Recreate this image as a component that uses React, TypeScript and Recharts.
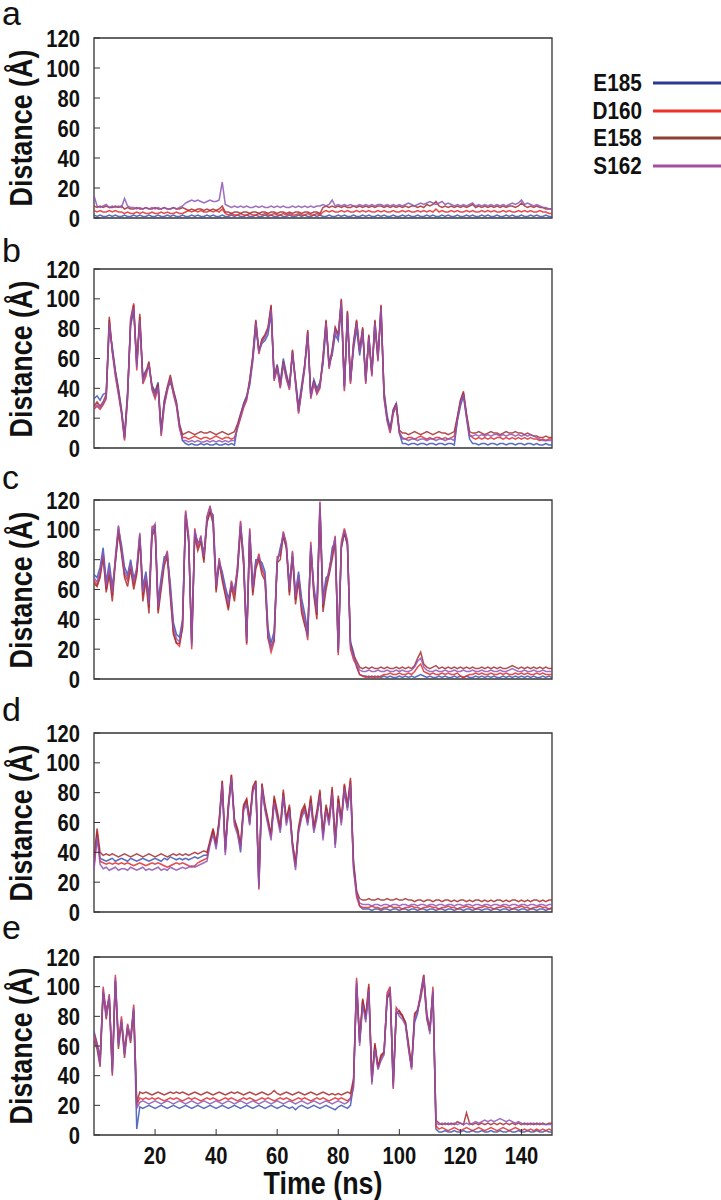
import { LineChart, Line, XAxis, YAxis, ReferenceArea } from 'recharts'

// Time axis (ns), one sample per ns
const TIME = Array.from({ length: 151 }, (_, i) => i)
const X_TICKS = [20, 40, 60, 80, 100, 120, 140]
const Y_TICKS = [0, 20, 40, 60, 80, 100, 120]

const SERIES = ['E185', 'D160', 'E158', 'S162']
const LINE_COLORS = ['#3a55b5', '#e52b2b', '#a82a2c', '#8d55b5']
const LEGEND_COLORS = ['#2b3990', '#ec3228', '#8b4031', '#a3519f']

// ---- panel a ----
const aE185 = [2,1,2,1,1,2,1,2,1,1, 2,1,1,2,1,2,1,1,2,1, 1,2,1,1,2,1,2,1,1,2, 1,1,2,1,2,1,1,2,1,2, 1,1,2,1,1,2,1,2,1,1, 2,1,1,2,1,1,2,1,2,1, 1,2,1,1,2,1,1,2,1,2, 1,1,2,1,2,1,1,2,1,1, 2,1,2,1,1,2,1,1,2,1, 2,1,1,2,1,2,1,1,2,1, 1,2,1,2,1,1,2,1,1,2, 1,2,1,1,2,1,2,1,1,2, 1,1,2,1,2,1,1,2,1,2, 1,1,2,1,1,2,1,2,1,1, 2,1,1,2,1,2,1,1,2,1, 1]
const aD160 = [5,4,5,4,4,5,4,5,4,4, 3,4,3,3,4,3,4,3,3,4, 3,3,4,3,4,3,3,4,3,3, 4,5,4,5,4,5,4,4,5,4, 5,4,6,3,2,3,2,2,3,2, 2,3,2,2,3,2,3,2,2,3, 2,2,3,2,3,2,2,3,2,2, 3,2,2,3,2,4,5,4,5,4, 4,5,4,5,4,4,5,4,5,4, 5,4,4,5,4,5,4,4,5,4, 4,5,4,5,4,4,5,4,5,4, 5,4,6,4,5,4,4,5,4,5, 4,4,5,4,5,4,4,5,4,5, 4,5,4,4,5,4,5,4,4,5, 4,5,4,5,4,4,5,4,4,3, 3]
const aE158 = [8,7,8,7,8,7,7,8,7,8, 6,7,6,6,7,6,6,7,6,6, 7,6,6,7,6,6,7,6,6,7, 6,5,6,5,6,6,5,6,5,6, 5,6,8,4,4,3,4,4,3,4, 4,3,4,4,3,4,4,3,4,4, 3,4,4,3,4,3,4,4,3,4, 4,3,4,4,3,7,8,7,8,7, 8,7,8,7,7,8,7,8,7,8, 7,8,7,8,8,7,8,7,8,7, 8,7,8,7,8,8,7,8,7,9, 8,9,11,8,7,8,7,8,7,8, 7,8,7,8,9,7,8,7,8,7, 8,7,8,7,8,7,8,8,7,8, 10,8,7,8,7,8,7,7,6,6, 6]
const aS162 = [15,8,7,8,9,7,8,7,8,7, 13,8,7,7,6,7,6,7,6,7, 6,7,6,7,6,6,7,6,7,8, 10,11,12,11,12,11,10,11,12,11, 11,12,24,9,8,7,8,7,8,7, 8,7,7,8,7,8,7,7,8,7, 8,7,8,7,7,8,7,8,7,8, 7,8,7,8,8,9,8,9,12,8, 9,8,9,8,9,8,8,9,8,9, 8,9,8,9,9,8,9,8,9,8, 9,8,9,10,9,8,9,10,9,10, 11,10,9,10,11,9,10,9,8,9, 8,9,8,9,10,8,9,8,9,8, 9,8,9,8,9,8,9,10,9,10, 12,9,10,9,8,9,8,7,7,6, 6]

// ---- panel b ----
const bE185 = [33,35,32,36,37,80,68,52,40,26, 8,38,82,92,58,84,48,52,54,42, 38,44,12,32,40,44,38,30,16,5, 3,2,3,2,2,3,2,3,2,2, 3,2,2,3,2,3,2,15,22,30, 35,42,58,80,66,70,72,76,90,48, 56,44,60,50,42,62,46,28,42,56, 74,36,46,40,44,56,80,58,62,76, 72,94,42,86,46,66,80,62,76,48, 72,52,80,62,90,38,22,13,26,30, 10,3,3,2,3,3,2,3,3,2, 3,3,2,3,3,2,3,3,2,18, 28,35,20,6,3,3,2,3,3,2, 3,3,2,3,3,2,3,3,2,3, 3,2,3,3,2,3,2,2,3,2, 2]
const bD160 = [26,28,26,29,33,86,64,48,36,23, 5,33,87,97,52,88,43,48,57,39, 33,40,8,28,38,47,36,28,13,7, 7,6,7,8,7,6,7,7,6,7, 8,7,6,7,7,6,7,13,20,27, 32,45,61,85,63,72,75,80,95,45, 53,40,56,46,39,65,43,23,38,53, 78,33,43,36,40,60,85,53,65,80, 75,99,38,91,43,70,85,65,80,43, 75,48,85,58,95,33,18,10,23,28, 10,7,6,7,7,6,7,8,7,6, 7,6,7,7,6,7,6,7,8,20, 31,37,22,9,7,6,7,6,7,6, 7,6,7,7,6,7,6,7,6,7, 6,7,6,7,6,6,5,6,5,6, 6]
const bE158 = [28,31,28,31,36,88,65,51,39,25, 7,36,84,96,56,90,46,51,58,41, 36,43,11,31,41,49,39,31,16,9, 10,11,10,9,10,11,10,10,11,10, 9,10,11,10,9,10,11,16,23,29, 34,46,62,86,65,73,76,81,96,47, 55,42,58,48,41,66,45,25,40,55, 79,35,45,38,42,61,86,55,66,81, 76,100,41,92,45,71,86,66,81,45, 76,50,86,60,96,36,20,12,25,30, 12,10,10,9,10,11,10,9,10,11, 10,9,10,11,10,10,9,10,11,21, 32,38,23,11,10,10,11,10,9,10, 11,10,10,9,10,11,10,10,11,10, 10,9,10,9,8,8,7,7,8,7, 7]
const bS162 = [27,29,27,30,34,84,66,50,37,24, 6,34,86,94,54,86,44,50,56,40, 34,41,9,29,39,46,37,29,14,5, 5,4,5,4,5,4,4,5,4,5, 4,5,4,5,4,5,5,14,21,28, 33,44,60,84,64,71,74,79,93,46, 54,41,57,47,40,64,44,24,39,54, 77,34,44,37,41,59,84,54,64,79, 74,98,39,90,44,69,84,64,79,44, 74,49,84,59,94,34,19,11,24,29, 11,6,6,5,6,6,5,6,6,5, 6,6,5,6,6,5,6,6,5,19, 30,36,21,8,8,9,8,9,8,9, 8,9,9,8,9,8,9,9,8,9, 8,9,8,9,8,7,6,5,5,5, 5]

// ---- panel c ----
const cE185 = [70,68,75,88,65,78,62,78,100,90, 75,70,80,68,72,95,62,72,54,98, 102,52,68,82,82,64,38,30,28,40, 110,92,26,98,92,92,85,105,112,110, 66,78,72,62,54,62,60,72,102,82, 28,98,62,80,80,78,72,34,24,32, 78,88,96,88,64,82,58,72,54,44, 32,88,62,48,115,54,68,70,88,92, 20,88,98,90,25,18,8,3,2,2, 1,2,1,2,1,2,1,2,1,1, 2,1,2,1,2,1,2,3,2,1, 2,1,1,2,1,2,1,1,2,1, 2,1,2,1,1,2,1,2,1,2, 1,2,1,1,2,1,2,1,2,1, 2,1,2,1,2,1,1,2,1,2, 1]
const cD160 = [66,63,70,83,60,72,56,82,102,86, 70,66,76,63,73,97,56,68,48,102, 103,46,63,78,86,58,32,24,22,35, 113,96,20,101,88,96,80,109,116,106, 60,81,68,58,48,66,56,76,106,78, 23,101,58,76,84,73,68,27,18,25, 82,83,99,91,58,86,53,68,48,38, 26,92,58,43,119,48,63,74,83,96, 16,92,101,93,20,13,9,3,2,1, 2,1,2,1,2,3,3,4,3,3, 4,3,3,4,3,5,8,10,5,4, 3,4,3,3,4,3,4,3,3,4, 2,1,2,3,3,4,3,4,3,3, 4,3,3,4,3,4,3,3,4,3, 4,3,4,3,3,4,3,4,3,3, 3]
const cE158 = [64,62,68,82,58,70,52,78,98,84, 68,62,74,60,70,94,52,66,44,96, 100,44,60,76,82,55,30,24,24,34, 110,92,24,96,86,92,78,105,112,104, 58,78,66,56,46,62,52,72,102,76, 24,96,56,74,80,70,66,28,22,26, 78,80,96,88,56,82,50,66,44,36, 30,88,56,40,114,45,60,70,80,92, 18,88,98,90,24,16,12,8,7,8, 7,8,7,7,8,7,8,7,7,8, 7,8,7,8,7,9,14,18,10,8, 7,8,9,7,8,7,8,7,8,7, 8,7,8,7,8,7,7,8,7,8, 7,8,7,8,7,7,8,9,8,7, 8,7,8,7,8,7,8,7,8,7, 7]
const cS162 = [68,65,72,85,62,75,58,80,103,88, 72,68,78,65,75,98,58,70,50,100, 104,48,65,80,85,60,35,27,25,38, 112,95,22,100,90,95,82,108,115,108, 62,80,70,60,50,65,58,75,105,80, 25,100,60,78,82,75,70,30,20,28, 80,85,98,90,60,85,55,70,50,40, 28,90,60,45,118,50,65,72,85,95, 18,90,100,92,22,15,10,6,5,5, 6,5,5,6,5,5,6,5,5,6, 5,6,5,5,6,8,12,14,8,6, 5,5,6,5,5,6,5,5,6,5, 5,6,5,5,6,5,5,6,5,5, 6,5,5,6,5,5,6,7,6,5, 5,6,5,5,6,5,5,6,5,5, 5]

// ---- panel d ----
const dE185 = [32,52,36,35,34,35,36,34,35,36, 35,34,36,35,34,35,36,35,34,35, 36,35,34,36,35,37,36,35,36,35, 36,35,36,37,36,37,38,38,46,54, 44,60,84,42,70,88,62,54,40,70, 74,60,82,84,20,82,70,60,52,75, 65,55,76,62,70,46,32,55,65,70, 60,75,55,66,76,52,70,62,78,46, 75,62,80,70,84,32,14,4,2,2, 2,1,2,2,1,2,2,1,2,2, 1,2,2,1,2,2,1,2,2,1, 2,2,1,2,2,1,2,2,1,2, 2,1,2,2,1,2,2,1,2,2, 1,2,2,1,2,2,1,2,2,1, 2,2,1,2,2,1,2,2,1,2, 2]
const dD160 = [30,54,34,33,32,33,32,33,32,33, 32,33,32,31,32,33,32,31,32,33, 32,33,32,31,30,31,32,33,32,33, 32,31,30,31,33,34,35,36,47,55, 45,61,88,40,71,92,60,55,44,71, 75,59,82,88,15,86,70,60,50,76, 66,55,80,60,70,45,30,55,66,70, 60,76,55,65,80,50,70,60,82,45, 76,60,85,70,88,30,10,4,3,3, 3,4,3,3,2,3,3,4,3,3, 3,2,3,3,4,3,3,2,3,3, 4,3,3,2,3,3,4,3,3,2, 3,3,4,3,3,2,3,3,4,3, 3,2,3,3,4,3,3,2,3,3, 4,3,3,2,3,3,4,3,3,2, 3]
const dE158 = [34,56,40,38,39,38,39,38,37,38, 39,38,37,38,39,38,37,38,39,38, 37,38,39,38,37,38,39,38,39,38, 39,38,39,40,39,40,41,40,48,56, 46,62,88,42,72,92,62,56,45,72, 76,62,84,88,18,86,72,62,52,78, 68,57,82,62,72,47,32,57,68,72, 62,78,57,68,82,52,72,62,84,48, 78,62,86,72,90,34,14,9,8,8, 9,8,8,9,8,8,9,8,8,9, 8,8,9,8,8,7,8,8,7,8, 8,7,8,8,7,8,8,7,8,7, 8,8,7,8,7,8,8,7,8,7, 8,7,8,8,7,8,7,8,8,7, 8,7,8,7,8,8,7,8,7,8, 8]
const dS162 = [28,50,32,29,30,28,29,30,28,29, 29,28,30,29,28,29,30,28,29,28, 29,30,28,29,28,30,29,28,29,30, 29,30,31,30,31,32,33,34,45,52, 42,58,86,38,68,90,58,52,42,68, 72,58,80,86,16,84,68,58,48,73, 63,53,78,58,68,43,28,53,63,68, 58,73,53,63,78,48,68,58,80,43, 73,58,83,68,86,28,12,6,5,5, 5,4,5,5,4,5,5,4,5,5, 4,5,5,4,5,5,4,5,5,4, 5,5,4,5,5,4,5,5,4,5, 5,4,5,5,4,5,5,4,5,5, 4,5,5,4,5,5,4,5,5,4, 5,5,4,5,5,4,5,5,4,5, 5]

// ---- panel e ----
const eE185 = [70,62,52,96,84,92,46,104,64,76, 58,72,66,84,4,19,18,19,20,19, 18,19,20,19,18,19,20,19,18,19, 20,19,18,19,20,19,18,19,20,19, 18,19,20,19,18,19,20,19,18,19, 20,19,18,19,20,19,18,19,20,19, 18,19,20,19,18,19,17,19,20,19, 18,19,20,19,18,19,20,19,18,17, 19,20,19,18,20,34,102,62,90,78, 96,38,60,46,52,56,92,96,36,82, 82,80,76,60,46,76,82,96,108,82, 72,96,4,2,2,3,2,2,3,2, 2,3,2,2,3,2,2,3,2,2, 3,2,2,3,2,2,3,2,2,3, 2,2,3,2,2,3,2,2,3,2, 2]
const eD160 = [68,61,50,100,82,95,43,108,62,80, 55,75,65,88,20,25,24,25,24,25, 24,25,24,23,24,25,24,25,24,23, 24,25,24,25,24,23,24,25,24,25, 24,23,24,25,24,25,24,23,24,25, 24,25,24,23,24,25,24,25,24,23, 24,25,24,25,24,23,24,25,24,25, 24,23,24,25,24,25,24,23,24,25, 24,25,24,23,25,36,106,63,91,79, 100,36,61,45,53,55,96,100,31,86, 83,81,75,59,45,80,85,95,108,81, 70,100,6,4,5,4,3,4,5,4, 3,4,5,4,3,4,5,4,3,4, 5,4,3,4,5,4,3,4,5,4, 3,4,3,4,3,4,3,4,3,4, 3]
const eE158 = [64,58,46,96,78,92,40,104,58,76, 52,72,62,84,22,29,28,29,28,27, 28,29,28,27,28,29,28,29,28,29, 28,27,28,29,28,27,28,29,28,27, 28,29,28,27,28,29,28,29,28,27, 28,29,28,27,28,29,28,27,28,30, 28,27,28,29,28,27,28,29,28,27, 28,29,28,27,28,29,28,27,28,27, 28,27,28,29,28,38,100,64,92,80, 102,36,62,46,54,56,92,98,34,82, 84,80,76,62,46,82,84,92,104,78, 70,96,10,8,7,8,7,8,7,9, 8,7,15,8,7,8,7,8,7,8, 7,8,7,8,7,8,7,8,7,8, 7,8,7,8,7,8,7,8,7,8, 8]
const eS162 = [66,60,48,98,80,94,42,106,60,78, 54,74,64,86,18,22,23,22,21,22, 23,22,21,22,23,22,21,22,23,22, 21,22,23,22,21,22,23,22,21,22, 23,22,21,22,23,22,21,22,23,22, 21,22,23,22,21,22,23,22,21,22, 23,22,21,22,23,22,21,22,23,22, 21,22,23,22,21,22,23,22,21,22, 23,22,21,22,24,32,104,60,88,76, 98,34,58,44,50,54,94,98,32,84, 80,78,74,58,44,78,84,94,106,80, 68,98,8,7,8,7,8,7,8,7, 8,7,8,7,8,9,8,9,10,9, 10,9,10,11,10,9,10,9,8,9, 8,7,8,7,8,7,8,7,7,7, 7]

const PANELS = [
  { letter: 'a', series: [aE185, aD160, aE158, aS162] },
  { letter: 'b', series: [bE185, bD160, bE158, bS162] },
  { letter: 'c', series: [cE185, cD160, cE158, cS162] },
  { letter: 'd', series: [dE185, dD160, dE158, dS162] },
  { letter: 'e', series: [eE185, eD160, eE158, eS162] },
]

// layout: plot top, plot height, baseline of the panel letter
const LAYOUT = [
  { top: 38, h: 180, letterBase: 25 },
  { top: 269, h: 179, letterBase: 262 },
  { top: 500, h: 179, letterBase: 489 },
  { top: 733, h: 179, letterBase: 721 },
  { top: 957, h: 178, letterBase: 939 },
]

const BOLD = "'Liberation Sans', Arial, sans-serif"
const SQUEEZE = 0.84

const YTick = (props: any) => {
  const { x, y, payload } = props
  return (
    <g transform={`translate(${x},${y})`}>
      <text transform={`scale(${SQUEEZE},1)`} textAnchor="end" dy="0.36em" fontSize={24}
            fontWeight={700} fill="#111" fontFamily={BOLD}>{payload.value}</text>
    </g>
  )
}

const XTick = (props: any) => {
  const { x, y, payload } = props
  return (
    <g transform={`translate(${x},${y})`}>
      <text transform={`scale(${SQUEEZE},1)`} textAnchor="middle" dy="0.71em" fontSize={24}
            fontWeight={700} fill="#111" fontFamily={BOLD}>{payload.value}</text>
    </g>
  )
}

function Panel({ p, lay, last }: { p: typeof PANELS[number]; lay: typeof LAYOUT[number]; last: boolean }) {
  const rows = TIME.map((t, i) => {
    const r: Record<string, number> = { t }
    SERIES.forEach((s, k) => { r[s] = p.series[k][i] })
    return r
  })
  const mt = 16
  const mb = 16
  const xh = last ? 40 : 0
  return (
    <div style={{ position: 'absolute', left: 0, top: lay.top - mt }}>
      <LineChart width={560} height={mt + lay.h + xh + mb} data={rows}
                 margin={{ top: mt, right: 8, bottom: mb, left: 0 }}>
        <XAxis type="number" dataKey="t" domain={[0, 150]} ticks={X_TICKS} interval={0}
               height={xh} tick={last ? <XTick /> : false} tickSize={-6} tickMargin={18}
               axisLine={false} tickLine={{ stroke: '#333' }} allowDataOverflow />
        <YAxis type="number" domain={[0, 120]} ticks={Y_TICKS} interval={0} width={94}
               tick={<YTick />} tickSize={-6} tickMargin={20}
               axisLine={false} tickLine={{ stroke: '#333' }} allowDataOverflow />
        {SERIES.map((s, k) => (
          <Line key={s} dataKey={s} type="linear" stroke={LINE_COLORS[k]} strokeWidth={1.5}
                strokeOpacity={0.85} dot={false} isAnimationActive={false} />
        ))}
        <ReferenceArea x1={0} x2={150} y1={0} y2={120} fill="none" stroke="#333"
                       strokeWidth={1.3} ifOverflow="visible" />
      </LineChart>
      {/* y axis title */}
      <div style={{ position: 'absolute', left: 21, top: mt + lay.h / 2,
                    transform: `translate(-50%, -50%) rotate(-90deg) scaleX(${SQUEEZE})`,
                    whiteSpace: 'nowrap', fontFamily: BOLD, fontWeight: 700, fontSize: 32,
                    lineHeight: '36px', color: '#111' }}>
        Distance (Å)
      </div>
    </div>
  )
}

function Legend() {
  return (
    <div style={{ position: 'absolute', left: 0, top: 0 }}>
      {SERIES.map((s, k) => (
        <div key={s} style={{ position: 'absolute', top: 83 + k * 27.5 - 14, left: 560, width: 161, height: 28 }}>
          <div style={{ position: 'absolute', right: 161 - 82, top: 0, lineHeight: '28px', fontFamily: BOLD,
                        fontWeight: 700, fontSize: 23, color: '#111', transform: 'scaleX(0.9)',
                        transformOrigin: 'right center' }}>{s}</div>
          <svg width={70} height={28} style={{ position: 'absolute', left: 93, top: 0 }}>
            <line x1={0} x2={70} y1={14} y2={14} stroke={LEGEND_COLORS[k]} strokeWidth={3} />
          </svg>
        </div>
      ))}
    </div>
  )
}

export default function App() {
  return (
    <div style={{ position: 'absolute', left: 0, top: 0, width: 721, height: 1200, background: '#fff', overflow: 'hidden' }}>
      {PANELS.map((p, i) => (
        <Panel key={p.letter} p={p} lay={LAYOUT[i]} last={i === PANELS.length - 1} />
      ))}
      {PANELS.map((p, i) => (
        <div key={'l' + p.letter} style={{ position: 'absolute', left: 2, top: LAYOUT[i].letterBase - 25,
                                           fontFamily: BOLD, fontSize: 34, lineHeight: '26px', color: '#111' }}>
          {p.letter}
        </div>
      ))}
      <Legend />
      <div style={{ position: 'absolute', left: 323, top: 1171, transform: `translateX(-50%) scaleX(${SQUEEZE})`,
                    whiteSpace: 'nowrap', fontFamily: BOLD, fontWeight: 700, fontSize: 32, lineHeight: '24px',
                    color: '#111' }}>
        Time (ns)
      </div>
    </div>
  )
}
